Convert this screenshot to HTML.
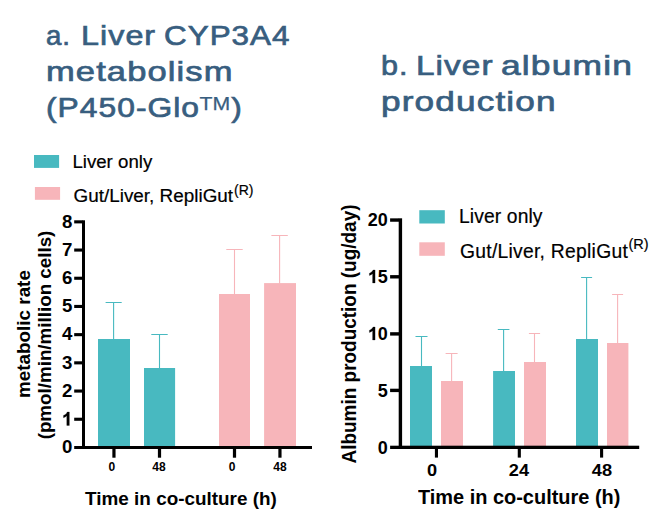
<!DOCTYPE html>
<html><head><meta charset="utf-8">
<style>
html,body{margin:0;padding:0;background:#fff;}
body{width:657px;height:531px;position:relative;overflow:hidden;font-family:"Liberation Sans",sans-serif;color:#000;}
.t{position:absolute;white-space:nowrap;line-height:1;margin:0;padding:0;}
.title{color:#385e7f;font-size:27.8px;-webkit-text-stroke:0.7px #385e7f;transform-origin:0 0;letter-spacing:0.9px;}
.b{font-weight:bold;}
.leg{font-size:18.67px;-webkit-text-stroke:0.2px #000;}
.yl{font-size:18.67px;font-weight:bold;text-align:right;}
.xl{font-size:12px;font-weight:bold;text-align:center;}
.rot{transform-origin:0 0;transform:rotate(-90deg);text-align:center;font-weight:bold;font-size:18.67px;}
sup.r{font-size:14px;vertical-align:baseline;position:relative;top:-7px;letter-spacing:0;margin-left:1px;}
svg.main{position:absolute;left:0;top:0;}
svg.one{width:0.5562em;height:0.7188em;vertical-align:baseline;overflow:visible;}
</style></head><body>
<svg class="main" width="657" height="531" viewBox="0 0 657 531">
<rect x="98.00" y="339.00" width="32.00" height="108.40" fill="#48b9c0"/>
<rect x="144.00" y="368.00" width="31.10" height="79.40" fill="#48b9c0"/>
<rect x="219.00" y="294.00" width="31.00" height="153.40" fill="#f7b5ba"/>
<rect x="264.10" y="283.10" width="31.90" height="164.30" fill="#f7b5ba"/>
<rect x="34.00" y="155.00" width="25.10" height="12.90" fill="#48b9c0"/>
<rect x="34.90" y="187.00" width="25.20" height="12.80" fill="#f7b5ba"/>
<path d="M113.60 302.50V339.50M105.60 302.50H121.70" stroke="#48b9c0" stroke-width="1.10" fill="none"/>
<path d="M159.50 334.50V368.50M151.30 334.50H167.70" stroke="#48b9c0" stroke-width="1.10" fill="none"/>
<path d="M234.50 249.50V294.50M226.30 249.50H242.70" stroke="#f7b5ba" stroke-width="1.10" fill="none"/>
<path d="M279.60 235.50V283.50M271.40 235.50H287.80" stroke="#f7b5ba" stroke-width="1.10" fill="none"/>
<rect x="82.00" y="220.30" width="3.00" height="228.70" fill="#000"/>
<rect x="74.20" y="446.00" width="237.80" height="3.00" fill="#000"/>
<rect x="74.20" y="417.70" width="8.30" height="3.10" fill="#000"/>
<rect x="74.20" y="389.50" width="8.30" height="3.10" fill="#000"/>
<rect x="74.20" y="361.30" width="8.30" height="3.10" fill="#000"/>
<rect x="74.20" y="333.10" width="8.30" height="3.10" fill="#000"/>
<rect x="74.20" y="304.90" width="8.30" height="3.10" fill="#000"/>
<rect x="74.20" y="276.70" width="8.30" height="3.10" fill="#000"/>
<rect x="74.20" y="248.50" width="8.30" height="3.10" fill="#000"/>
<rect x="74.20" y="220.30" width="8.30" height="3.10" fill="#000"/>
<rect x="112.35" y="448.50" width="3.20" height="9.20" fill="#000"/>
<rect x="157.90" y="448.50" width="3.20" height="9.20" fill="#000"/>
<rect x="232.90" y="448.50" width="3.20" height="9.20" fill="#000"/>
<rect x="278.35" y="448.50" width="3.20" height="9.20" fill="#000"/>
<rect x="410.00" y="366.00" width="22.00" height="81.40" fill="#48b9c0"/>
<rect x="493.10" y="371.00" width="21.90" height="76.40" fill="#48b9c0"/>
<rect x="576.00" y="339.00" width="22.00" height="108.40" fill="#48b9c0"/>
<rect x="441.00" y="381.00" width="22.00" height="66.40" fill="#f7b5ba"/>
<rect x="524.00" y="362.00" width="22.00" height="85.40" fill="#f7b5ba"/>
<rect x="607.00" y="343.00" width="21.40" height="104.40" fill="#f7b5ba"/>
<rect x="419.30" y="210.20" width="25.50" height="13.30" fill="#48b9c0"/>
<rect x="419.30" y="242.30" width="25.50" height="13.50" fill="#f7b5ba"/>
<path d="M421.50 336.50V366.50M415.50 336.50H427.50" stroke="#48b9c0" stroke-width="1.10" fill="none"/>
<path d="M451.60 353.50V381.50M445.60 353.50H457.60" stroke="#f7b5ba" stroke-width="1.10" fill="none"/>
<path d="M503.60 329.50V371.50M497.80 329.50H509.40" stroke="#48b9c0" stroke-width="1.10" fill="none"/>
<path d="M534.50 333.50V362.50M528.90 333.50H540.10" stroke="#f7b5ba" stroke-width="1.10" fill="none"/>
<path d="M586.60 277.50V339.50M581.10 277.50H592.10" stroke="#48b9c0" stroke-width="1.10" fill="none"/>
<path d="M617.60 294.50V343.50M612.10 294.50H623.10" stroke="#f7b5ba" stroke-width="1.10" fill="none"/>
<rect x="398.70" y="218.30" width="3.40" height="230.70" fill="#000"/>
<rect x="390.10" y="445.70" width="249.10" height="3.30" fill="#000"/>
<rect x="390.10" y="218.35" width="8.90" height="3.40" fill="#000"/>
<rect x="390.10" y="275.10" width="8.90" height="3.40" fill="#000"/>
<rect x="390.10" y="332.20" width="8.90" height="3.40" fill="#000"/>
<rect x="390.10" y="388.70" width="8.90" height="3.40" fill="#000"/>
<rect x="434.90" y="448.50" width="3.10" height="9.10" fill="#000"/>
<rect x="517.75" y="448.50" width="3.10" height="9.10" fill="#000"/>
<rect x="600.05" y="448.50" width="3.10" height="9.10" fill="#000"/>
</svg>

<!-- titles -->
<div class="t title" id="a1" style="left:46.05px;top:21.6px;transform:scaleX(0.9938);">a.</div>
<div class="t title" id="a2" style="left:80.57px;top:21.6px;transform:scaleX(1.1608);">Liver</div>
<div class="t title" id="a3" style="left:164.39px;top:21.6px;transform:scaleX(1.1291);">CYP3A4</div>
<div class="t title" id="a4" style="left:46.29px;top:57.9px;transform:scaleX(1.2410);">metabolism</div>
<div class="t title" id="a5" style="left:46.30px;top:94.2px;transform:scaleX(1.1430);">(P450-Glo<span style="font-size:18.6px;position:relative;top:-7.7px;letter-spacing:0;-webkit-text-stroke:0.25px #385e7f;margin-left:-0.5px;margin-right:1px;">TM</span>)</div>
<div class="t title" id="b1" style="left:381.00px;top:52.0px;transform:scaleX(1.1000);">b.</div>
<div class="t title" id="b2" style="left:416.48px;top:52.0px;transform:scaleX(1.1996);">Liver</div>
<div class="t title" id="b3" style="left:500.92px;top:52.0px;transform:scaleX(1.2733);">albumin</div>
<div class="t title" id="b4" style="left:380.88px;top:87.6px;transform:scaleX(1.2654);">production</div>

<!-- left legend -->
<div class="t leg" id="la1" style="left:72.4px;top:152.7px;">Liver only</div>
<div class="t leg" id="la2" style="left:73.5px;top:187.3px;font-size:18.9px;">Gut/Liver, RepliGut<sup class="r">(R)</sup></div>
<!-- right legend -->
<div class="t leg" id="lb1" style="left:459px;top:207.4px;font-size:19.3px;letter-spacing:0.11px;">Liver only</div>
<div class="t leg" id="lb2" style="left:460px;top:241.7px;font-size:19.3px;letter-spacing:0.27px;">Gut/Liver, RepliGut<sup class="r" style="font-size:14.5px;top:-8.8px;margin-left:0.5px;">(R)</sup></div>

<!-- left y ticks -->
<div class="t yl" style="left:40px;width:32.3px;top:212.5px;">8</div>
<div class="t yl" style="left:40px;width:32.3px;top:240.7px;">7</div>
<div class="t yl" style="left:40px;width:32.3px;top:268.9px;">6</div>
<div class="t yl" style="left:40px;width:32.3px;top:297.1px;">5</div>
<div class="t yl" style="left:40px;width:32.3px;top:325.3px;">4</div>
<div class="t yl" style="left:40px;width:32.3px;top:353.5px;">3</div>
<div class="t yl" style="left:40px;width:32.3px;top:381.7px;">2</div>
<div class="t yl" style="left:40px;width:32.3px;top:410.5px;"><svg class="one" viewBox="0 0 1139 1472"><path transform="translate(0,1472) scale(1,-1)" d="M806 0H525V1059Q371 915 162 846V1101Q272 1137 401 1237.5Q530 1338 578 1472H806Z" fill="#000" stroke="#000" stroke-width="30"/></svg></div>
<div class="t yl" style="left:40px;width:32.3px;top:438.1px;">0</div>
<!-- left x ticks -->
<div class="t xl" style="left:91.8px;width:40px;top:460.5px;">0</div>
<div class="t xl" style="left:139px;width:40px;top:460.5px;">48</div>
<div class="t xl" style="left:212px;width:40px;top:460.5px;">0</div>
<div class="t xl" style="left:260px;width:40px;top:460.5px;">48</div>
<div class="t b" id="xa" style="left:85.1px;top:490.3px;font-size:18.9px;">Time in co-culture (h)</div>
<!-- left y title -->
<div class="t rot" id="ya1" style="left:14.6px;top:483.9px;width:300px;font-size:18.85px;">metabolic rate</div>
<div class="t rot" id="ya2" style="left:35.5px;top:485.2px;width:300px;font-size:18.8px;">(pmol/min/million cells)</div>

<!-- right y ticks -->
<div class="t yl" style="left:340px;width:47.8px;top:211px;font-size:18px;">20</div>
<div class="t yl" style="left:340px;width:47.8px;top:267.8px;font-size:18px;"><svg class="one" viewBox="0 0 1139 1472"><path transform="translate(0,1472) scale(1,-1)" d="M806 0H525V1059Q371 915 162 846V1101Q272 1137 401 1237.5Q530 1338 578 1472H806Z" fill="#000" stroke="#000" stroke-width="30"/></svg>5</div>
<div class="t yl" style="left:340px;width:47.8px;top:324.8px;font-size:18px;"><svg class="one" viewBox="0 0 1139 1472"><path transform="translate(0,1472) scale(1,-1)" d="M806 0H525V1059Q371 915 162 846V1101Q272 1137 401 1237.5Q530 1338 578 1472H806Z" fill="#000" stroke="#000" stroke-width="30"/></svg>0</div>
<div class="t yl" style="left:340px;width:47.8px;top:382.4px;font-size:18px;">5</div>
<div class="t yl" style="left:340px;width:47.8px;top:439.4px;font-size:18px;">0</div>
<!-- right x ticks -->
<div class="t xl" id="rx0" style="left:411.5px;width:40px;top:462.2px;font-size:17px;transform:scaleX(1.07);">0</div>
<div class="t xl" id="rx1" style="left:499.2px;width:40px;top:462.2px;font-size:17px;transform:scaleX(1.07);">24</div>
<div class="t xl" id="rx2" style="left:582.3px;width:40px;top:462.2px;font-size:17px;transform:scaleX(1.07);">48</div>
<div class="t b" id="xb" style="left:418px;top:487.7px;font-size:19.3px;transform-origin:0 0;transform:scaleX(1.034);">Time in co-culture (h)</div>
<!-- right y title -->
<div class="t rot" id="yb" style="left:340.8px;top:483.8px;width:300px;font-size:18.97px;transform:rotate(-90deg) scaleY(1.02);">Albumin production (ug/day)</div>
</body></html>
